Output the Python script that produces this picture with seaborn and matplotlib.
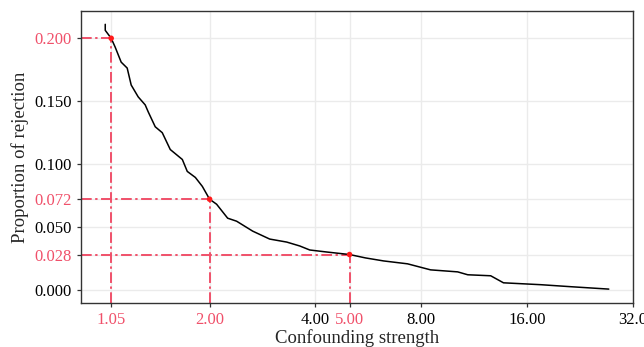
import numpy as np
import pandas as pd
import seaborn as sns
import matplotlib.pyplot as plt

# curve (confounding strength vs proportion of rejection)
strength = [1.01, 1.01, 1.05, 1.078, 1.121, 1.166, 1.197, 1.253, 1.312, 1.338, 1.401,
            1.467, 1.546, 1.673, 1.728, 1.822, 1.907, 2.00, 2.094, 2.251, 2.387, 2.652,
            2.964, 3.314, 3.609, 3.854, 4.307, 5.00, 5.55, 6.25, 7.31, 8.50, 10.15,
            10.84, 12.6, 13.7, 17.5, 21.3, 27.3]
rejection = [0.2111, 0.2063, 0.200, 0.1929, 0.1810, 0.1763, 0.1628, 0.1534, 0.1470,
             0.1415, 0.1296, 0.1249, 0.1115, 0.1036, 0.0941, 0.0893, 0.0822, 0.072,
             0.0680, 0.0569, 0.0545, 0.0466, 0.0403, 0.0379, 0.0348, 0.0316, 0.0300,
             0.028, 0.0253, 0.0229, 0.0206, 0.0158, 0.0142, 0.0119, 0.0111, 0.0055,
             0.0040, 0.0024, 0.0005]

mark_x = [1.05, 2.00, 5.00]
mark_y = [0.200, 0.072, 0.028]

x_breaks = [1.05, 2, 4, 5, 8, 16, 32]
x_labels = ["1.05", "2.00", "4.00", "5.00", "8.00", "16.00", "32.0"]
y_breaks = [0.0, 0.028, 0.05, 0.072, 0.1, 0.15, 0.2]
y_labels = ["0.000", "0.028", "0.050", "0.072", "0.100", "0.150", "0.200"]

RED = "#F0506A"
PT_RED = "#FF1A1A"

sns.set_style("white")
plt.rcParams.update({
    'font.family': ['Liberation Serif', 'DejaVu Serif'],
    'axes.edgecolor': '#333333',
    'axes.linewidth': 1.0,
    'xtick.color': '#333333',
    'ytick.color': '#333333',
    'xtick.major.width': 0.9,
    'ytick.major.width': 0.9,
})

df = pd.DataFrame({'strength': strength, 'rejection': rejection})
marks = pd.DataFrame({'x': mark_x, 'y': mark_y})

fig = plt.figure(figsize=(6.44, 3.47), dpi=100)
ax = fig.add_axes([0.1253, 0.127, 0.983 - 0.1253, 0.968 - 0.127])

ax.set_xscale('log', base=2)
ax.set_xlim(0.86, 32.0)
ax.set_ylim(-0.0105, 0.2216)

for xb in x_breaks:
    ax.axvline(xb, color='#EBEBEB', lw=1.0, zorder=0)
for yb in y_breaks:
    ax.axhline(yb, color='#EBEBEB', lw=1.0, zorder=0)

sns.lineplot(data=df, x='strength', y='rejection', color='black', lw=1.1,
             sort=False, estimator=None, ax=ax, zorder=3)

xmin, _ = ax.get_xlim()
ymin, _ = ax.get_ylim()
for mx, my in zip(mark_x, mark_y):
    ax.plot([xmin, mx], [my, my], color=RED, lw=1.4, dashes=(5.5, 1.8, 1.2, 1.8), zorder=2)
    ax.plot([mx, mx], [ymin, my], color=RED, lw=1.4, dashes=(5.5, 1.8, 1.2, 1.8), zorder=2)

sns.scatterplot(data=marks, x='x', y='y', color=PT_RED, s=16, edgecolor='none',
                ax=ax, zorder=4)

ax.set_xticks(x_breaks)
ax.set_xticklabels(x_labels)
ax.set_yticks(y_breaks)
ax.set_yticklabels(y_labels)
ax.minorticks_off()
ax.tick_params(axis='both', labelsize=12, direction='out', length=3.2, pad=3,
               bottom=True, left=True)
for lab, v in zip(ax.get_xticklabels(), x_breaks):
    lab.set_color(RED if v in mark_x else 'black')
for lab, v in zip(ax.get_yticklabels(), y_breaks):
    lab.set_color(RED if v in mark_y else 'black')

ax.set_xlabel('Confounding strength', fontsize=13.5, labelpad=1)
ax.set_ylabel('Proportion of rejection', fontsize=13.5, labelpad=4)

plt.savefig('out.png', dpi=100)
